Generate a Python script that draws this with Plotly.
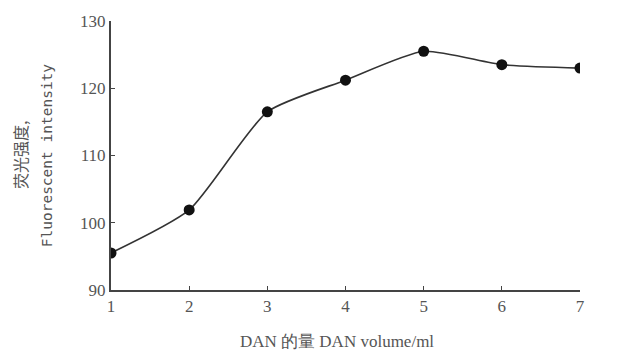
import plotly.graph_objects as go

volume = [1, 2, 3, 4, 5, 6, 7]
intensity = [95.5, 101.9, 116.5, 121.2, 125.5, 123.5, 123.0]
y_ticks = [90, 100, 110, 120, 130]
x_ticks = [1, 2, 3, 4, 5, 6, 7]

fig = go.Figure()
fig.add_trace(go.Scatter(
    x=volume, y=intensity, mode="lines+markers",
    line=dict(color="#333333", width=1.6, shape="spline", smoothing=0.6),
    marker=dict(color="#111111", size=11),
    showlegend=False,
))

axis_font = dict(family="Liberation Serif", size=17, color="#555555")
fig.update_layout(
    width=621, height=357,
    margin=dict(l=111, r=41, t=16, b=67),
    paper_bgcolor="white", plot_bgcolor="white",
    xaxis=dict(range=[1, 7], tickvals=x_ticks, showgrid=False, zeroline=False,
               showline=True, linecolor="#444444", linewidth=2,
               ticks="inside", ticklen=4, tickcolor="#444444", tickfont=axis_font),
    yaxis=dict(range=[90, 130], tickvals=y_ticks, showgrid=False, zeroline=False,
               showline=True, linecolor="#444444", linewidth=2,
               ticks="inside", ticklen=4, tickcolor="#444444", tickfont=axis_font),
    annotations=[
        dict(text="荧光强度,", xref="paper", yref="paper", x=-0.195, y=0.50,
             textangle=-90, showarrow=False, xanchor="center", yanchor="middle",
             font=dict(family="Noto Sans CJK SC", size=16, color="#555555")),
        dict(text="Fluorescent intensity", xref="paper", yref="paper", x=-0.137, y=0.50,
             textangle=-90, showarrow=False, xanchor="center", yanchor="middle",
             font=dict(family="DejaVu Sans Mono", size=14.5, color="#555555")),
        dict(text="DAN 的量 DAN volume/ml", xref="paper", yref="paper", x=0.482, y=-0.19,
             showarrow=False, xanchor="center", yanchor="middle",
             font=dict(family="Liberation Serif", size=17, color="#555555")),
    ],
)
fig.write_html("out.html")
